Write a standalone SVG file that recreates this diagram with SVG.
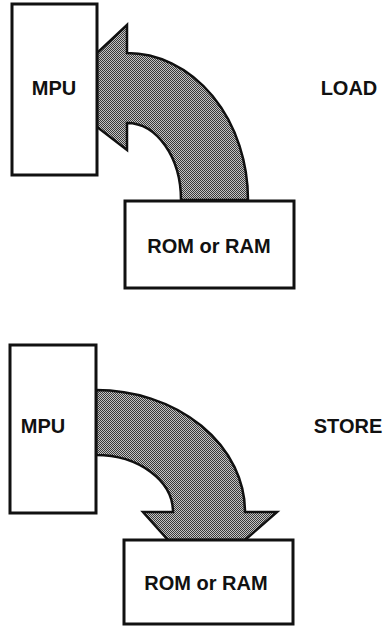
<svg xmlns="http://www.w3.org/2000/svg" width="392" height="626" viewBox="0 0 392 626">
<defs>
<pattern id="dots" width="2" height="2" patternUnits="userSpaceOnUse">
<rect width="2" height="2" fill="#c4c4c4"/>
<rect width="1" height="1" fill="#3a3a3a"/>
<rect x="1" y="1" width="1" height="1" fill="#3a3a3a"/>
</pattern>
<style>
.box{fill:#fff;stroke:#111;stroke-width:3}
.arrow{fill:url(#dots);stroke:#111;stroke-width:2.5;stroke-linejoin:miter}
.lbl{font-family:"Liberation Sans",Arial,sans-serif;font-weight:bold;font-size:20px;fill:#111;text-anchor:middle}
</style>
</defs>
<rect width="392" height="626" fill="#fff"/>
<g id="connectors">
<path class="arrow" d="M127,25 L97,53 L97,127 L127,150 L127,123 A54 77 0 0 1 181,200 L248,200 A121 147 0 0 0 127,53 Z"/>
<path class="arrow" d="M96,390 A149 122 0 0 1 245,512 L277,512 L245,540 L168,540 L143,512 L173,512 A77 57 0 0 0 96,455 Z"/>
</g>
<g id="mpu-load">
<rect class="box" x="12" y="4" width="85" height="171"/>
<text class="lbl" x="54" y="95">MPU</text>
</g>
<g id="mem-load">
<rect class="box" x="125" y="201" width="169" height="87"/>
<text class="lbl" x="209" y="253">ROM or RAM</text>
</g>
<g id="label-load">
<text class="lbl" x="349" y="95">LOAD</text>
</g>
<g id="mpu-store">
<rect class="box" x="10" y="345" width="86" height="168"/>
<text class="lbl" x="43" y="433">MPU</text>
</g>
<g id="mem-store">
<rect class="box" x="124" y="540" width="169" height="84"/>
<text class="lbl" x="206" y="590">ROM or RAM</text>
</g>
<g id="label-store">
<text class="lbl" x="348" y="433">STORE</text>
</g>
</svg>
